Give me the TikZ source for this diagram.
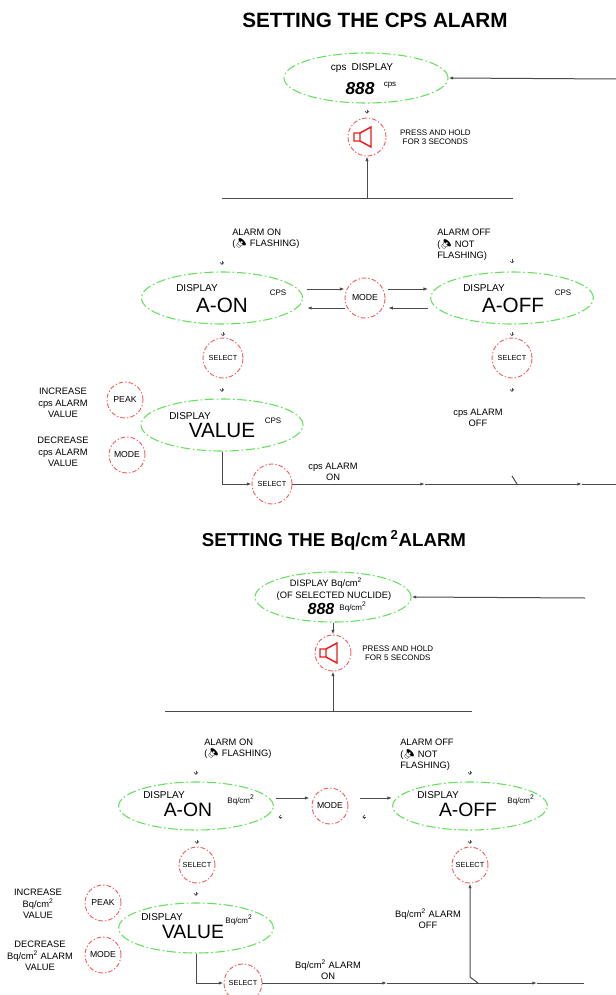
\documentclass[tikz,border=0pt]{standalone}
\usepackage{fontspec}
\setmainfont{Liberation Sans}
\newfontfamily\emo{Noto Emoji}
\usetikzlibrary{positioning,shapes.geometric,arrows.meta}
\definecolor{dispgreen}{RGB}{100,225,90}
\definecolor{keyred}{RGB}{240,95,95}
\definecolor{iconred}{RGB}{235,25,25}
\definecolor{wirecol}{RGB}{75,75,75}
\newcommand\bqcm{Bq/cm\textsuperscript{2}}
\tikzset{
	speaker/.pic={
		\draw[iconred, line width=1.1pt, line join=miter] (-13,-4) rectangle (-7,4) (-7,-4) -- (4,-10) -- (4,10) -- (-7,4);
	}
}

\begin{document}
\begin{tikzpicture}[x=0.75pt, y=-0.75pt,
	headtxt/.style={font=\fontsize{14}{16}\selectfont\bfseries, inner sep=0pt},
	dispbox/.style={ellipse, draw=dispgreen, line width=0.8pt, dash pattern=on 7pt off 2pt on 1.2pt off 2pt, inner sep=0pt},
	keybtn/.style={circle, draw=keyred, line width=0.7pt, dash pattern=on 3.5pt off 1.5pt on 1pt off 1.5pt, inner sep=0pt, minimum size=28pt, font=\fontsize{6.5}{7}\selectfont},
	selbtn/.style={keybtn, font=\fontsize{5.5}{6}\selectfont},
	labtxt/.style={font=\fontsize{7.5}{9}\selectfont, inner sep=0pt},
	notetxt/.style={font=\fontsize{7}{8.5}\selectfont, inner sep=0pt, align=center},
	presstxt/.style={font=\fontsize{6}{7}\selectfont, inner sep=0pt, align=center},
	bigtxt/.style={font=\fontsize{15.5}{16}\selectfont, inner sep=0pt},
	suptxt/.style={font=\fontsize{6}{7}\selectfont, inner sep=0pt},
	segtxt/.style={font=\fontsize{13}{14}\selectfont\bfseries\itshape, inner sep=0pt},
	wireln/.style={draw=wirecol, line width=0.75pt},
	arrln/.style={wireln, -{Latex[length=3.5pt, width=2.5pt]}},
	stubln/.style={draw=wirecol, line width=0.5pt, -{Straight Barb[length=1.5pt, width=3pt]}},
	]
	\useasboundingbox (0,0) rectangle (616,995);
	
	\node[headtxt, font=\fontsize{15.5}{17}\selectfont\bfseries] (ttl1) at (375,20) {SETTING THE CPS ALARM};
	\node[dispbox, minimum width=123pt, minimum height=37.5pt] (disp1) at (366,78) {};
	\node[labtxt] (disp1a) at (362,68) {cps\enspace DISPLAY};
	\node[segtxt] (disp1b) at (360,89) {888};
	\node[suptxt] (disp1c) at (390,85) {cps};
	\node[keybtn, minimum size=28.5pt] (spk1) at (367,137) {};
	\pic at (spk1) {speaker};
	\node[presstxt, right=10pt of spk1] (press1) {PRESS AND HOLD\\FOR 3 SECONDS};
	\coordinate (rt1) at (616,79);
	\coordinate (bar1a) at (222,198);
	\coordinate (bar1b) at (513,198);
	
	\node[notetxt, anchor=west, align=left] (alon1) at (232,239) {ALARM ON\\({\emo 🔈}\ FLASHING)};
	\node[notetxt, anchor=west, align=left] (aloff1) at (437,245) {ALARM OFF\\({\emo 🔈}\ NOT\\FLASHING)};
	\node[dispbox, minimum width=120.75pt, minimum height=39pt] (aon1) at (222,298) {};
	\node[labtxt] (aon1a) at (197,288) {DISPLAY};
	\node[bigtxt] (aon1b) at (222,305) {A-ON};
	\node[suptxt] (aon1c) at (278,293) {CPS};
	\node[keybtn, minimum size=30pt] (mode1) at (365,298) {MODE};
	\node[dispbox, minimum width=122pt, minimum height=39pt] (aoff1) at (512,298) {};
	\node[labtxt] (aoff1a) at (484,288) {DISPLAY};
	\node[bigtxt] (aoff1b) at (513,305) {A-OFF};
	\node[suptxt] (aoff1c) at (563,293) {CPS};
	\node[selbtn, minimum size=30pt] (sel1) at (223,358) {SELECT};
	\node[selbtn, minimum size=30pt] (sel2) at (512,358) {SELECT};
	
	\node[keybtn, minimum size=27pt] (peak1) at (125,400) {PEAK};
	\node[keybtn, minimum size=27pt] (mode2) at (127,455) {MODE};
	\node[notetxt] (incr1) at (63,403) {INCREASE\\cps ALARM\\VALUE};
	\node[notetxt] (decr1) at (63,452) {DECREASE\\cps ALARM\\VALUE};
	\node[dispbox, minimum width=121.5pt, minimum height=39pt] (val1) at (222,425) {};
	\node[labtxt] (val1a) at (190,416) {DISPLAY};
	\node[bigtxt] (val1b) at (222,430) {VALUE};
	\node[suptxt] (val1c) at (273,421) {CPS};
	\node[notetxt] (offlbl1) at (478,418) {cps ALARM\\OFF};
	\node[selbtn, minimum size=30pt] (sel3) at (272,484) {SELECT};
	\node[notetxt] (onlbl1) at (333,472) {cps ALARM\\ON};
	\coordinate (m1) at (425,484);
	\coordinate (m2) at (582,484);
	\coordinate (rt2) at (616,484);
	\coordinate (jn1) at (517,484);
	\coordinate (jn1a) at (512,476);
	
	\draw[arrln] (rt1) -- (disp1.east);
	\draw[stubln] ([yshift=6pt]spk1.north) -- ([yshift=3pt]spk1.north);
	\draw[wireln] (bar1a) -- (bar1b);
	\draw[arrln] (spk1 |- bar1a) -- (spk1.south);
	\draw[stubln] ([yshift=8pt]aon1.north) -- ([yshift=5pt]aon1.north);
	\draw[stubln] ([yshift=9pt]aoff1.north) -- ([yshift=6pt]aoff1.north);
	\draw[arrln, shorten <=3pt] ([yshift=6.75pt]aon1.east) -- ([yshift=6.75pt]mode1.west);
	\draw[arrln, shorten >=3pt] ([yshift=-7.5pt]mode1.west) -- ([yshift=-7.5pt]aon1.east);
	\draw[arrln, shorten <=2pt, shorten >=1.5pt] ([yshift=6.75pt]mode1.east) -- ([yshift=6.75pt]aoff1.west);
	\draw[arrln, shorten <=1.5pt, shorten >=2pt] ([yshift=-7.5pt]aoff1.west) -- ([yshift=-7.5pt]mode1.east);
	\draw[stubln] ([yshift=4pt]sel1.north) -- ([yshift=1pt]sel1.north);
	\draw[stubln] ([yshift=4pt]sel2.north) -- ([yshift=1pt]sel2.north);
	\draw[stubln] ([yshift=8pt]val1.north) -- ([yshift=5pt]val1.north);
	\draw[stubln] ([yshift=-7pt]sel2.south) -- ([yshift=-10pt]sel2.south);
	\draw[arrln] (val1.south) |- (sel3.west);
	\draw[arrln] (sel3.east) -- (m1);
	\draw[arrln] (m1) -- (m2);
	\draw[wireln] (m2) -- (rt2);
	\draw[wireln] (jn1) -- (jn1a);
	
	\node[headtxt] (ttl2) at (334,540) {SETTING THE Bq/cm\,\textsuperscript{2}ALARM};
	\node[dispbox, minimum width=117pt, minimum height=37.5pt] (disp2) at (333,597) {};
	\node[notetxt] (disp2a) at (326,583) {DISPLAY \bqcm};
	\node[notetxt] (disp2b) at (334,596) {(OF SELECTED NUCLIDE)};
	\node[segtxt, font=\fontsize{12}{13}\selectfont\bfseries\itshape] (disp2c) at (321,609) {888};
	\node[suptxt] (disp2d) at (353,607) {\bqcm};
	\node[keybtn, minimum size=27pt] (spk2) at (333,653) {};
	\pic at (spk2) {speaker};
	\node[presstxt, right=8pt of spk2] (press2) {PRESS AND HOLD\\FOR 5 SECONDS};
	\coordinate (rt3) at (585,598);
	\coordinate (bar2a) at (165,711);
	\coordinate (bar2b) at (472,711);
	
	\node[notetxt, anchor=west, align=left] (alon2) at (204,749) {ALARM ON\\({\emo 🔈}\ FLASHING)};
	\node[notetxt, anchor=west, align=left] (aloff2) at (400,755) {ALARM OFF\\({\emo 🔈}\ NOT\\FLASHING)};
	\node[dispbox, minimum width=116pt, minimum height=36pt] (aon2) at (196,806) {};
	\node[labtxt] (aon2a) at (164,795) {DISPLAY};
	\node[bigtxt, font=\fontsize{14.5}{15}\selectfont] (aon2b) at (188,810) {A-ON};
	\node[suptxt] (aon2c) at (241,800) {\bqcm};
	\node[keybtn, minimum size=27pt] (mode3) at (330,806) {MODE};
	\node[dispbox, minimum width=116pt, minimum height=36pt] (aoff2) at (470,806) {};
	\node[labtxt] (aoff2a) at (438,795) {DISPLAY};
	\node[bigtxt, font=\fontsize{14.5}{15}\selectfont] (aoff2b) at (468,810) {A-OFF};
	\node[suptxt] (aoff2c) at (521,800) {\bqcm};
	\node[selbtn, minimum size=27pt] (sel4) at (197,865) {SELECT};
	\node[selbtn, minimum size=27pt] (sel5) at (470,865) {SELECT};
	
	\node[keybtn, minimum size=27pt] (peak2) at (103,903) {PEAK};
	\node[keybtn, minimum size=27pt] (mode4) at (103,955) {MODE};
	\node[notetxt] (incr2) at (38,904) {INCREASE\\\bqcm\\VALUE};
	\node[notetxt] (decr2) at (40,956) {DECREASE\\\bqcm{} ALARM\\VALUE};
	\node[dispbox, minimum width=116pt, minimum height=37.5pt] (val2) at (196,928) {};
	\node[labtxt] (val2a) at (162,917) {DISPLAY};
	\node[bigtxt, font=\fontsize{14.5}{15}\selectfont] (val2b) at (193,932) {VALUE};
	\node[suptxt] (val2c) at (239,920) {\bqcm};
	\node[notetxt] (offlbl2) at (428,919) {\bqcm{} ALARM\\OFF};
	\node[selbtn, minimum size=28.5pt] (sel6) at (243,983) {SELECT};
	\node[notetxt] (onlbl2) at (328,970) {\bqcm{} ALARM\\ON};
	\coordinate (m3) at (387,983);
	\coordinate (m4) at (537,983);
	\coordinate (rt4) at (584,983);
	\coordinate (jn2) at (478,983);
	\coordinate (jn2a) at (470,977);
	
	\draw[arrln] (rt3) -- (disp2.east);
	\draw[arrln] (disp2.south) -- (spk2.north);
	\draw[wireln] (bar2a) -- (bar2b);
	\draw[arrln] (spk2 |- bar2a) -- (spk2.south);
	\draw[stubln] ([yshift=8pt]aon2.north) -- ([yshift=5pt]aon2.north);
	\draw[stubln] ([yshift=8pt]aoff2.north) -- ([yshift=5pt]aoff2.north);
	\draw[arrln, shorten <=1.5pt, shorten >=1.5pt] ([yshift=6pt]aon2.east) -- ([yshift=6pt]mode3.west);
	\draw[arrln, shorten <=9pt] ([yshift=6pt]mode3.east) -- ([yshift=6pt]aoff2.west);
	\draw[stubln] ([shift={(6pt,-8.25pt)}]aon2.east) -- ([shift={(3.5pt,-8.25pt)}]aon2.east);
	\draw[stubln] ([shift={(13pt,-8.25pt)}]mode3.east) -- ([shift={(10.5pt,-8.25pt)}]mode3.east);
	\draw[stubln] ([yshift=5pt]sel4.north) -- ([yshift=2pt]sel4.north);
	\draw[stubln] ([yshift=5pt]sel5.north) -- ([yshift=2pt]sel5.north);
	\draw[stubln] ([yshift=8pt]val2.north) -- ([yshift=5pt]val2.north);
	\draw[arrln] (val2.south) |- (sel6.west);
	\draw[arrln] (sel6.east) -- (m3);
	\draw[arrln] (m3) -- (m4);
	\draw[wireln] (m4) -- (rt4);
	\draw[arrln] (jn2) -- (jn2a) -- (sel5.south);
\end{tikzpicture}
\end{document}
